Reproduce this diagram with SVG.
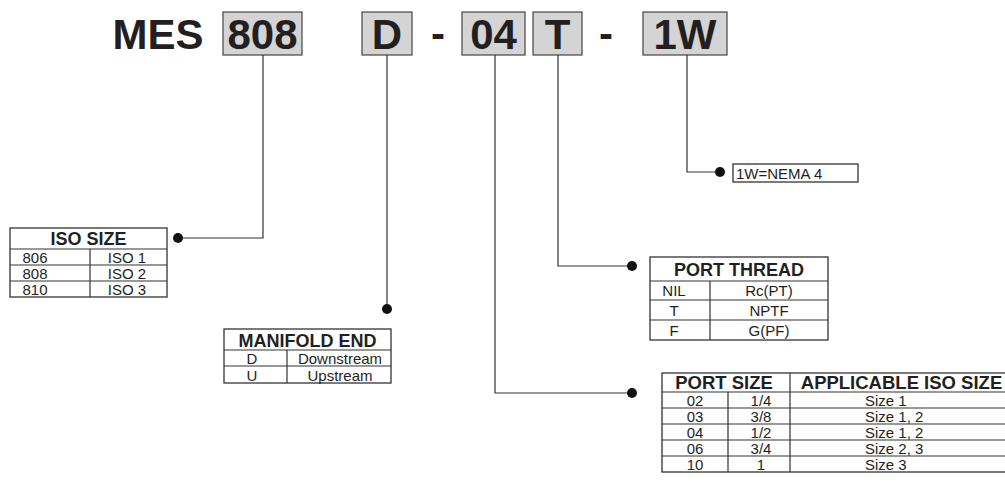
<svg xmlns="http://www.w3.org/2000/svg" width="1005" height="504" viewBox="0 0 1005 504">
<style>
.hdr{font-family:"Liberation Sans",Arial,sans-serif;font-weight:bold;font-size:42px;fill:#231f20;text-anchor:middle}
.box{fill:#d4d4d4;stroke:#444;stroke-width:1.2}
.tb{fill:#fff;stroke:#333;stroke-width:1.3}
.ln{stroke:#333;stroke-width:1.2;fill:none}
.th{font-family:"Liberation Sans",Arial,sans-serif;font-weight:bold;font-size:18px;fill:#231f20;text-anchor:middle}
.td{font-family:"Liberation Sans",Arial,sans-serif;font-size:15px;fill:#231f20;text-anchor:middle}
.tl{font-family:"Liberation Sans",Arial,sans-serif;font-size:15px;fill:#231f20;text-anchor:start}
.dot{fill:#111}
</style>
<g id="code">
<text class="hdr" x="158" y="49">MES</text>
<rect class="box" x="223" y="12" width="79" height="43"/>
<text class="hdr" x="262.5" y="49">808</text>
<rect class="box" x="362" y="12" width="50" height="43"/>
<text class="hdr" x="387" y="49">D</text>
<text class="hdr" x="438" y="48">-</text>
<rect class="box" x="462" y="12" width="63" height="43"/>
<text class="hdr" x="493.5" y="49">04</text>
<rect class="box" x="533" y="12" width="49" height="43"/>
<text class="hdr" x="557.5" y="49">T</text>
<text class="hdr" x="606" y="48">-</text>
<rect class="box" x="643" y="12" width="84" height="43"/>
<text class="hdr" x="685" y="49">1W</text>
</g>
<g id="connectors">
<polyline class="ln" points="263,55 263,238 178,238"/>
<circle class="dot" cx="178" cy="238" r="5"/>
<polyline class="ln" points="387,55 387,309"/>
<circle class="dot" cx="387" cy="309" r="5"/>
<polyline class="ln" points="558,55 558,266 632,266"/>
<circle class="dot" cx="632" cy="266" r="5"/>
<polyline class="ln" points="495,55 495,393 632,393"/>
<circle class="dot" cx="632" cy="393" r="5"/>
<polyline class="ln" points="687,55 687,172 720,172"/>
<circle class="dot" cx="720" cy="172" r="5"/>
</g>
<g id="nema">
<rect class="tb" x="733" y="164" width="125" height="18"/>
<text class="tl" x="736" y="178.5">1W=NEMA 4</text>
</g>
<g id="iso-size">
<rect class="tb" x="10" y="228" width="157" height="69"/>
<path class="ln" d="M10 249H167M10 265H167M10 281H167M90 249V297"/>
<text class="th" x="88.5" y="245">ISO SIZE</text>
<text class="td" x="35" y="262.5">806</text><text class="td" x="127" y="262.5">ISO 1</text>
<text class="td" x="35" y="278.5">808</text><text class="td" x="127" y="278.5">ISO 2</text>
<text class="td" x="35" y="294.5">810</text><text class="td" x="127" y="294.5">ISO 3</text>
</g>
<g id="manifold-end">
<rect class="tb" x="224" y="329" width="167" height="54"/>
<path class="ln" d="M224 350H391M224 366H391M287 350V383"/>
<text class="th" x="307.5" y="347">MANIFOLD END</text>
<text class="td" x="252" y="363.5">D</text><text class="td" x="340" y="363.5">Downstream</text>
<text class="td" x="252" y="380.5">U</text><text class="td" x="340" y="380.5">Upstream</text>
</g>
<g id="port-thread">
<rect class="tb" x="650" y="257" width="178" height="83"/>
<path class="ln" d="M650 281H828M650 300H828M650 320H828M710 281V340"/>
<text class="th" x="739" y="276">PORT THREAD</text>
<text class="td" x="674" y="295.5">NIL</text><text class="td" x="769" y="295.5">Rc(PT)</text>
<text class="td" x="674" y="315.5">T</text><text class="td" x="769" y="315.5">NPTF</text>
<text class="td" x="674" y="335.5">F</text><text class="td" x="769" y="335.5">G(PF)</text>
</g>
<g id="port-size">
<rect class="tb" x="662" y="373" width="344" height="99"/>
<path class="ln" d="M662 392H1006M662 408H1006M662 424H1006M662 440H1006M662 456H1006M728 392V472M790 373V472"/>
<text class="th" x="724" y="389" style="font-size:18.5px">PORT SIZE</text>
<text class="th" x="901.5" y="389" style="font-size:18.5px">APPLICABLE ISO SIZE</text>
<text class="td" x="695" y="405.5">02</text><text class="td" x="761" y="405.5">1/4</text><text class="tl" x="865" y="405.5">Size 1</text>
<text class="td" x="695" y="421.5">03</text><text class="td" x="761" y="421.5">3/8</text><text class="tl" x="865" y="421.5">Size 1, 2</text>
<text class="td" x="695" y="437.5">04</text><text class="td" x="761" y="437.5">1/2</text><text class="tl" x="865" y="437.5">Size 1, 2</text>
<text class="td" x="695" y="453.5">06</text><text class="td" x="761" y="453.5">3/4</text><text class="tl" x="865" y="453.5">Size 2, 3</text>
<text class="td" x="695" y="469.5">10</text><text class="td" x="761" y="469.5">1</text><text class="tl" x="865" y="469.5">Size 3</text>
</g>
</svg>
